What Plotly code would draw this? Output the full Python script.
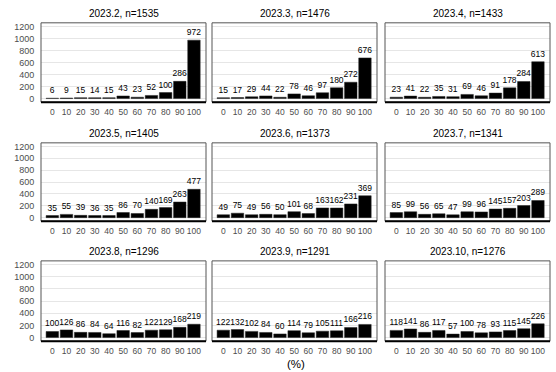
import plotly.graph_objects as go

categories = ["0", "10", "20", "30", "40", "50", "60", "70", "80", "90", "100"]
months = ["2023.2", "2023.3", "2023.4", "2023.5", "2023.6", "2023.7", "2023.8", "2023.9", "2023.10"]

c_2023_02 = [6, 9, 15, 14, 15, 43, 23, 52, 100, 286, 972]
c_2023_03 = [15, 17, 29, 44, 22, 78, 46, 97, 180, 272, 676]
c_2023_04 = [23, 41, 22, 35, 31, 69, 46, 91, 178, 284, 613]
c_2023_05 = [35, 55, 39, 36, 35, 86, 70, 140, 169, 263, 477]
c_2023_06 = [49, 75, 49, 56, 50, 101, 68, 163, 162, 231, 369]
c_2023_07 = [85, 99, 56, 65, 47, 99, 96, 145, 157, 203, 289]
c_2023_08 = [100, 126, 86, 84, 64, 116, 82, 122, 129, 168, 219]
c_2023_09 = [122, 132, 102, 84, 60, 114, 79, 105, 111, 166, 216]
c_2023_10 = [118, 141, 86, 117, 57, 100, 78, 93, 115, 145, 226]

series = [c_2023_02, c_2023_03, c_2023_04, c_2023_05, c_2023_06,
          c_2023_07, c_2023_08, c_2023_09, c_2023_10]

y_ticks = [0, 200, 400, 600, 800, 1000, 1200]
x_label = "(%)"

W, H = 556, 372
col_px = [(41, 206), (212, 377), (385, 550)]
row_px = [(22, 102), (143, 222), (262, 343)]
FONT = "Liberation Sans, Arial, sans-serif"

fig = go.Figure()
shapes = []
annotations = []
layout_axes = {}

for i, (m, vals) in enumerate(zip(months, series)):
    r, c = divmod(i, 3)
    k = i + 1
    xa = "x" if k == 1 else f"x{k}"
    ya = "y" if k == 1 else f"y{k}"
    xkey = "xaxis" if k == 1 else f"xaxis{k}"
    ykey = "yaxis" if k == 1 else f"yaxis{k}"
    x0, x1 = col_px[c]
    y0, y1 = row_px[r]

    fig.add_trace(go.Bar(
        x=categories, y=vals, xaxis=xa, yaxis=ya,
        text=[str(v) for v in vals], textposition="outside",
        constraintext="none", cliponaxis=False,
        textfont=dict(size=8.5, color="black", family=FONT),
        marker=dict(color="black", line=dict(color="#222", width=0.5)),
        width=0.88, showlegend=False, hoverinfo="x+y",
    ))

    layout_axes[xkey] = dict(
        domain=[x0 / W, x1 / W], anchor=ya, type="category",
        range=[-0.8, 10.85], showgrid=False, zeroline=False, showline=False,
        ticks="outside", ticklen=2, tickcolor="rgba(0,0,0,0)",
        tickfont=dict(size=8.5, color="#4d4d4d", family=FONT),
        fixedrange=True,
    )
    layout_axes[ykey] = dict(
        domain=[1 - y1 / H, 1 - y0 / H], anchor=xa,
        range=[-60, 1260], tickvals=y_ticks, showticklabels=(c == 0),
        gridcolor="#e6e6e6", gridwidth=1, zeroline=False, showline=False,
        ticks="outside", ticklen=4, tickcolor="rgba(0,0,0,0)",
        tickfont=dict(size=9, color="#4d4d4d", family=FONT),
        fixedrange=True,
    )

    shapes.append(dict(type="rect", xref=f"{xa} domain", yref=f"{ya} domain",
                       x0=0, x1=1, y0=0, y1=1,
                       line=dict(color="#555555", width=1), layer="above"))
    shapes.append(dict(type="line", xref=f"{xa} domain", yref=f"{ya} domain",
                       x0=0, x1=1, y0=0, y1=0,
                       line=dict(color="black", width=2), layer="above"))

    annotations.append(dict(
        text=f"{m}, n={sum(vals)}", xref="paper", yref="paper",
        x=(x0 + x1) / 2 / W, y=1 - (y0 - 9) / H, showarrow=False,
        xanchor="center", yanchor="middle",
        font=dict(size=10, color="black", family=FONT),
    ))

annotations.append(dict(
    text=x_label, xref="paper", yref="paper",
    x=(col_px[0][0] + col_px[2][1]) / 2 / W, y=1 - 366 / H, showarrow=False,
    xanchor="center", yanchor="middle",
    font=dict(size=11.5, color="black", family=FONT),
))

fig.update_layout(
    width=W, height=H, margin=dict(l=0, r=0, t=0, b=0),
    paper_bgcolor="white", plot_bgcolor="white",
    shapes=shapes, annotations=annotations, bargap=0.1,
    font=dict(family=FONT),
    **layout_axes,
)

fig.write_html(
    "out.html",
    config={"displayModeBar": False},
    post_script="document.body.style.margin='0';document.body.style.overflow='hidden';",
)
